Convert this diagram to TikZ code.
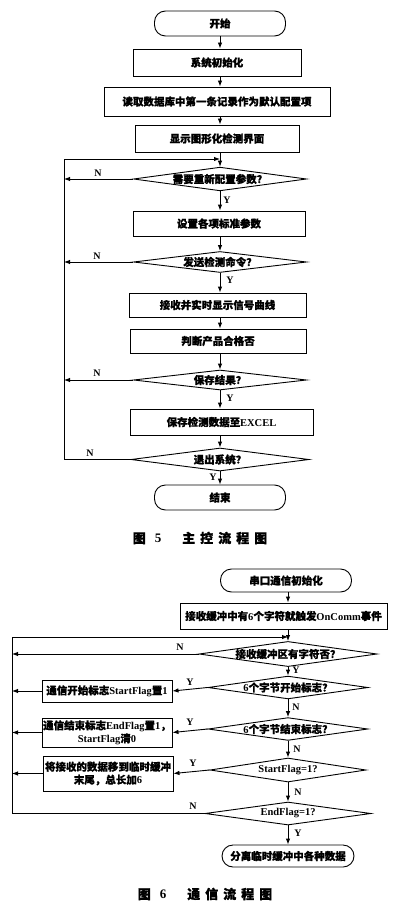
\documentclass[tikz,border=0pt]{standalone}
\usepackage{fontspec}
\setmainfont{Liberation Serif}
\newfontfamily\cjk{Noto Sans CJK SC}[FakeBold=1]
\usetikzlibrary{shapes.geometric,arrows.meta}
\newcommand\cj[1]{{\cjk #1}}
\begin{document}
\begin{tikzpicture}[x=1pt,y=-1pt,
  font=\fontsize{10.5}{13}\selectfont\bfseries,
  line width=0.9pt,
  proc/.style={draw, rectangle, inner sep=1pt, align=center},
  term/.style={draw, rectangle, rounded corners=11pt, align=center},
  dec/.style={draw, diamond, aspect=7, inner sep=0pt},
  arr/.style={-{Latex[length=6pt,width=4.5pt]}},
  lab/.style={font=\fontsize{10}{12}\selectfont\bfseries, inner sep=0pt}]
\useasboundingbox[fill=white] (0,0) rectangle (400,912);

% ---------------- Figure 5 ----------------
\coordinate (mx) at (220,0);
\node[term, minimum width=131pt, minimum height=25pt] (start) at (220,23.5) {\cj{开始}};
\node[proc, minimum width=168pt, minimum height=27pt] (init) at (217,62.5) {\cj{系统初始化}};
\node[proc, minimum width=226pt, minimum height=29pt] (read) at (217,101.5) {\cj{读取数据库中第一条记录作为默认配置项}};
\node[proc, minimum width=164pt, minimum height=27pt] (show) at (217,138.5) {\cj{显示图形化检测界面}};
\coordinate (m1) at (220,159);
\node[dec, minimum width=173pt, minimum height=23pt] (d1) at (220,179) {\cj{需要重新配置参数？}};
\node[proc, minimum width=172pt, minimum height=25pt] (set) at (219,223.5) {\cj{设置各项标准参数}};
\node[dec, minimum width=173pt, minimum height=21pt] (d2) at (220,262) {\cj{发送检测命令？}};
\node[proc, minimum width=177pt, minimum height=24pt] (recv) at (217.5,305) {\cj{接收并实时显示信号曲线}};
\node[proc, minimum width=176pt, minimum height=24pt] (judge) at (218,341) {\cj{判断产品合格否}};
\node[dec, minimum width=173pt, minimum height=20pt] (d3) at (220,380) {\cj{保存结果？}};
\node[proc, minimum width=183pt, minimum height=26pt] (save) at (221.5,422) {\cj{保存检测数据至}EXCEL};
\node[dec, minimum width=178pt, minimum height=23pt] (d4) at (220,459.5) {\cj{退出系统？}};
\node[term, minimum width=131pt, minimum height=25pt] (end) at (220,497.5) {\cj{结束}};
\coordinate (L5top) at (64,159);
\coordinate (L5bot) at (64,459.5);

\draw[arr] (start.south -| mx) -- (init.north -| mx);
\draw[arr] (init.south -| mx) -- (read.north -| mx);
\draw[arr] (read.south -| mx) -- (show.north -| mx);
\draw[arr] (show.south -| mx) -- (d1.north);
\draw[arr] (d1.south) -- (set.north -| mx);
\draw[arr] (set.south -| mx) -- (d2.north);
\draw[arr] (d2.south) -- (recv.north -| mx);
\draw[arr] (recv.south -| mx) -- (judge.north -| mx);
\draw[arr] (judge.south -| mx) -- (d3.north);
\draw[arr] (d3.south) -- (save.north -| mx);
\draw[arr] (save.south -| mx) -- (d4.north);
\draw[arr] (d4.south) -- (end.north);
\draw[arr] (d4.west) -- (L5bot) -- (L5top) -- (m1);
\draw[arr] (d1.west) -- (d1.west -| L5top);
\draw[arr] (d2.west) -- (d2.west -| L5top);
\draw[arr] (d3.west) -- (d3.west -| L5top);

\node[lab] (n1) at (98,173) {N};
\node[lab] (n2) at (97,256) {N};
\node[lab] (n3) at (97,373) {N};
\node[lab] (n4) at (90,453) {N};
\node[lab] (y1) at (227,200) {Y};
\node[lab] (y2) at (230,280) {Y};
\node[lab] (y3) at (230,398) {Y};
\node[lab] (y4) at (213,477) {Y};

\node[inner sep=0pt] (cap5) at (200,538) {\fontsize{13}{15}\selectfont\cj{图}\hspace{9pt}5\hspace{21pt}\cj{主\hspace{5pt}控\hspace{5pt}流\hspace{5pt}程\hspace{5pt}图}};

% ---------------- Figure 6 ----------------
\coordinate (my) at (288,0);
\node[term, minimum width=131pt, minimum height=23pt] (t1) at (286,580.5) {\cj{串口通信初始化}};
\node[proc, minimum width=207pt, minimum height=26pt] (trig) at (283.5,616) {\cj{接收缓冲中有}6\cj{个字符就触发}OnComm\cj{事件}};
\coordinate (m2) at (288,637);
\node[dec, minimum width=178pt, minimum height=24pt] (e1) at (288,654) {\cj{接收缓冲区有字符否？}};
\node[dec, minimum width=155pt, minimum height=21pt] (e2) at (288,687.5) {6\cj{个字节开始标志？}};
\node[dec, minimum width=155pt, minimum height=22pt] (e3) at (288,729) {6\cj{个字节结束标志？}};
\node[dec, minimum width=156pt, minimum height=24pt] (e4) at (288,770) {StartFlag=1?};
\node[dec, minimum width=166pt, minimum height=23pt] (e5) at (288,813.5) {EndFlag=1?};
\node[term, minimum width=132pt, minimum height=22pt] (fin) at (288,856) {\cj{分离临时缓冲中各种数据}};
\node[proc, minimum width=130pt, minimum height=22pt] (b1) at (107,691) {\cj{通信开始标志}StartFlag\cj{置}1};
\node[proc, minimum width=130pt, minimum height=29pt, inner sep=0pt] (b2) at (107,732.5) {\cj{通信结束标志}EndFlag\cj{置}1\cj{，}\\StartFlag\cj{清}0};
\node[proc, minimum width=130pt, minimum height=35pt, inner sep=0pt] (b3) at (108,773.5) {\cj{将接收的数据移到临时缓冲}\\\cj{末尾，总长加}6};
\coordinate (L6top) at (12,637);
\coordinate (L6bot) at (12,813.5);

\draw[arr] (t1.south -| my) -- (trig.north -| my);
\draw[arr] (trig.south -| my) -- (e1.north);
\draw[arr] (e1.south) -- (e2.north);
\draw[arr] (e2.south) -- (e3.north);
\draw[arr] (e3.south) -- (e4.north);
\draw[arr] (e4.south) -- (e5.north);
\draw[arr] (e5.south) -- (fin.north);
\draw[arr] (e5.west) -- (L6bot) -- (L6top) -- (m2);
\draw[arr] (e1.west) -- (e1.west -| L6top);
\draw[arr] (e2.west) -- (b1.east);
\draw[arr] (b1.west) -- (b1.west -| L6top);
\draw[arr] (e3.west) -- (b2.east);
\draw[arr] (b2.west) -- (b2.west -| L6top);
\draw[arr] (e4.west) -- (b3.east);
\draw[arr] (b3.west) -- (b3.west -| L6top);

\node[lab] (n5) at (180,647) {N};
\node[lab] (y5) at (296,670) {Y};
\node[lab] (y6) at (190,682) {Y};
\node[lab] (n6) at (296,707) {N};
\node[lab] (y7) at (190,722) {Y};
\node[lab] (n7) at (297,749) {N};
\node[lab] (y8) at (193,763) {Y};
\node[lab] (n8) at (298,792) {N};
\node[lab] (n9) at (193,806) {N};
\node[lab] (y9) at (298,833) {Y};

\node[inner sep=0pt] (cap6) at (205,894) {\fontsize{13}{15}\selectfont\cj{图}\hspace{9pt}6\hspace{21pt}\cj{通\hspace{5pt}信\hspace{5pt}流\hspace{5pt}程\hspace{5pt}图}};
\end{tikzpicture}
\end{document}
